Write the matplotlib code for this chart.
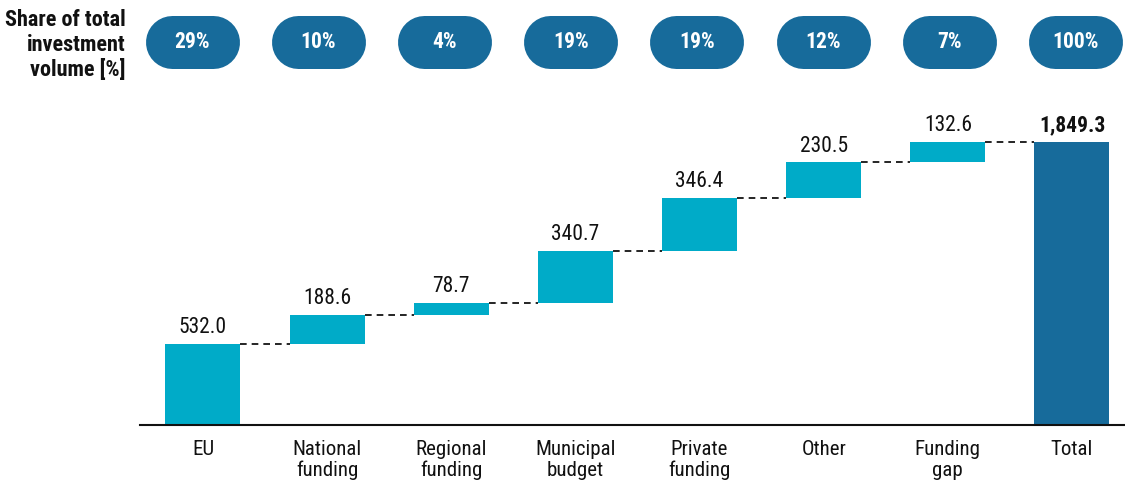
import matplotlib
import matplotlib.pyplot as plt

matplotlib.use('Agg')

CATEGORIES = ['EU', 'National\nfunding', 'Regional\nfunding', 'Municipal\nbudget',
              'Private\nfunding', 'Other', 'Funding\ngap', 'Total']
VALUES = [532.0, 188.6, 78.7, 340.7, 346.4, 230.5, 132.6]
TOTAL = 1849.3
SHARES = ['29%', '10%', '4%', '19%', '19%', '12%', '7%', '100%']

CYAN = '#00abc8'
BLUE = '#176b9b'

plt.rcParams['font.family'] = ['Roboto Condensed', 'Liberation Sans Narrow',
                               'Liberation Sans', 'DejaVu Sans']

W, H = 1125, 484
fig = plt.figure(figsize=(W / 100, H / 100), dpi=100)
fig.patch.set_facecolor('white')

# main waterfall axes: baseline at y=425px, top at y=100px
ax = fig.add_axes([140 / W, (H - 425) / H, 1 - 140 / W, 325 / H])
ax.set_xlim(-0.507, 7.427)
ax.set_ylim(0, 325 / 0.15303)

bar_w = 0.604
bottoms = []
running = 0.0
for v in VALUES:
    bottoms.append(running)
    running += v

xs = list(range(len(VALUES)))
ax.bar(xs, VALUES, bottom=bottoms, width=bar_w, color=CYAN, zorder=2)
ax.bar(len(VALUES), TOTAL, width=bar_w, color=BLUE, zorder=2)

# dashed connectors between consecutive bar tops
tops = [b + v for b, v in zip(bottoms, VALUES)]
for i, t in enumerate(tops):
    level = TOTAL if i == len(tops) - 1 else t
    ax.plot([i + bar_w / 2, i + 1 - bar_w / 2], [level, level],
            color='black', linestyle=(0, (4, 3)), linewidth=1.2, zorder=1)

# value labels
for i, (t, v) in enumerate(zip(tops, VALUES)):
    ax.annotate(f'{v:,.1f}', (i, t), xytext=(0, 4), textcoords='offset points',
                ha='center', va='bottom', fontsize=15.5, color='#111111')
ax.annotate(f'{TOTAL:,.1f}', (len(VALUES), TOTAL), xytext=(0, 4),
            textcoords='offset points', ha='center', va='bottom',
            fontsize=15.5, fontweight='bold', color='#111111')

ax.set_xticks(range(len(CATEGORIES)))
ax.set_xticklabels(CATEGORIES, fontsize=15, color='#111111', linespacing=1.1)
ax.tick_params(axis='x', length=0, pad=11)
ax.set_yticks([])
for s in ['top', 'right', 'left']:
    ax.spines[s].set_visible(False)
ax.spines['bottom'].set_linewidth(1.5)
ax.spines['bottom'].set_color('#111111')

# overlay in pixel units for the share pills and row title
ov = fig.add_axes([0, 0, 1, 1])
ov.set_xlim(0, W)
ov.set_ylim(H, 0)
ov.axis('off')

pill_w, pill_h = 94, 53
for i, s in enumerate(SHARES):
    cx = 192.5 + i * 126.1
    cy = 41.5
    # a thick line with round caps gives a pill shape
    ov.plot([cx - pill_w / 2 + pill_h / 2, cx + pill_w / 2 - pill_h / 2], [cy, cy],
            color=BLUE, linewidth=pill_h * 0.72, solid_capstyle='round')
    ov.text(cx, cy + 1, s, ha='center', va='center', color='white',
            fontsize=15.5, fontweight='bold')

ov.text(126, 45, 'Share of total\ninvestment\nvolume [%]', ha='right', va='center',
        multialignment='right', fontsize=16, fontweight='bold', color='#111111',
        linespacing=1.15)

fig.savefig('out.png', dpi=100, facecolor='white')
